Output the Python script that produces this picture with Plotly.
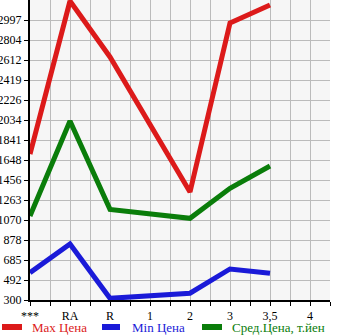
import plotly.graph_objects as go

categories = ["***", "RA", "R", "1", "2", "3", "3,5", "4"]
max_price = [1706, 3180, 2641, None, 1340, 2968, 3141, None]
min_price = [563, 839, 316, None, 365, 599, 557, None]
avg_price = [1109, 2024, 1173, None, 1087, 1376, 1591, None]
y_tick_labels = ["300", "492", "685", "878", "1070", "1263", "1456", "1648",
                 "1841", "2034", "2226", "2419", "2612", "2804", "2997"]
series_names = ["Max Цена", "Min Цена", "Сред.Цена, т.йен"]
series_colors = ["#dc1a1a", "#1a1ad8", "#0a7d0a"]

y_min = 300
y_step = (2997 - 300) / 14
y_max = y_min + 15 * y_step
tick_vals = [y_min + i * y_step for i in range(len(y_tick_labels))]
xs = list(range(len(categories)))

FONT = "Liberation Serif"
PLOT_L, PLOT_W, PLOT_H = 30, 300, 300

fig = go.Figure()
for name, vals, color in zip(series_names, [max_price, min_price, avg_price], series_colors):
    fig.add_trace(go.Scatter(
        x=xs, y=vals, mode="lines", connectgaps=True,
        line=dict(color=color, width=5), name=name, showlegend=False,
    ))

# manual legend below the plot (paper coordinates)
legend_px = [(0, 22, 30), (100, 120, 130), (200, 222, 230)]
ly = (PLOT_H - 327) / PLOT_H
for (x0, x1, tx), name, color in zip(legend_px, series_names, series_colors):
    fig.add_shape(type="line", xref="paper", yref="paper",
                  x0=(x0 + 2 - PLOT_L) / PLOT_W, x1=(x1 - PLOT_L) / PLOT_W,
                  y0=ly, y1=ly, line=dict(color=color, width=6))
    fig.add_annotation(xref="paper", yref="paper", x=(tx - PLOT_L) / PLOT_W, y=ly,
                       xanchor="left", yanchor="middle", text=name, showarrow=False,
                       font=dict(family=FONT, size=13, color=color))

fig.update_layout(
    width=345, height=335,
    margin=dict(l=30, r=15, t=0, b=35, autoexpand=False),
    paper_bgcolor="white",
    plot_bgcolor="#f6f6f6",
    font=dict(family=FONT, size=12, color="black"),
    showlegend=False,
    xaxis=dict(
        range=[0, 7.5], tickmode="array", tickvals=xs, ticktext=categories,
        showgrid=True, gridcolor="#bbbbbb", gridwidth=1,
        minor=dict(dtick=0.5, tick0=0, showgrid=True, gridcolor="#bbbbbb",
                   ticks="outside", ticklen=4, tickcolor="black"),
        showline=True, linecolor="black", linewidth=2,
        ticks="outside", ticklen=4, tickcolor="black",
        zeroline=False, fixedrange=True, automargin=False,
        tickfont=dict(family=FONT, size=12),
    ),
    yaxis=dict(
        range=[y_min, y_max], tickmode="array", tickvals=tick_vals,
        ticktext=y_tick_labels,
        showgrid=True, gridcolor="#bbbbbb", gridwidth=1,
        showline=True, linecolor="black", linewidth=2,
        ticks="outside", ticklen=4, tickcolor="black",
        zeroline=False, fixedrange=True, automargin=False,
        tickfont=dict(family=FONT, size=12),
    ),
)

fig.write_html("out.html", config={"displayModeBar": False})
